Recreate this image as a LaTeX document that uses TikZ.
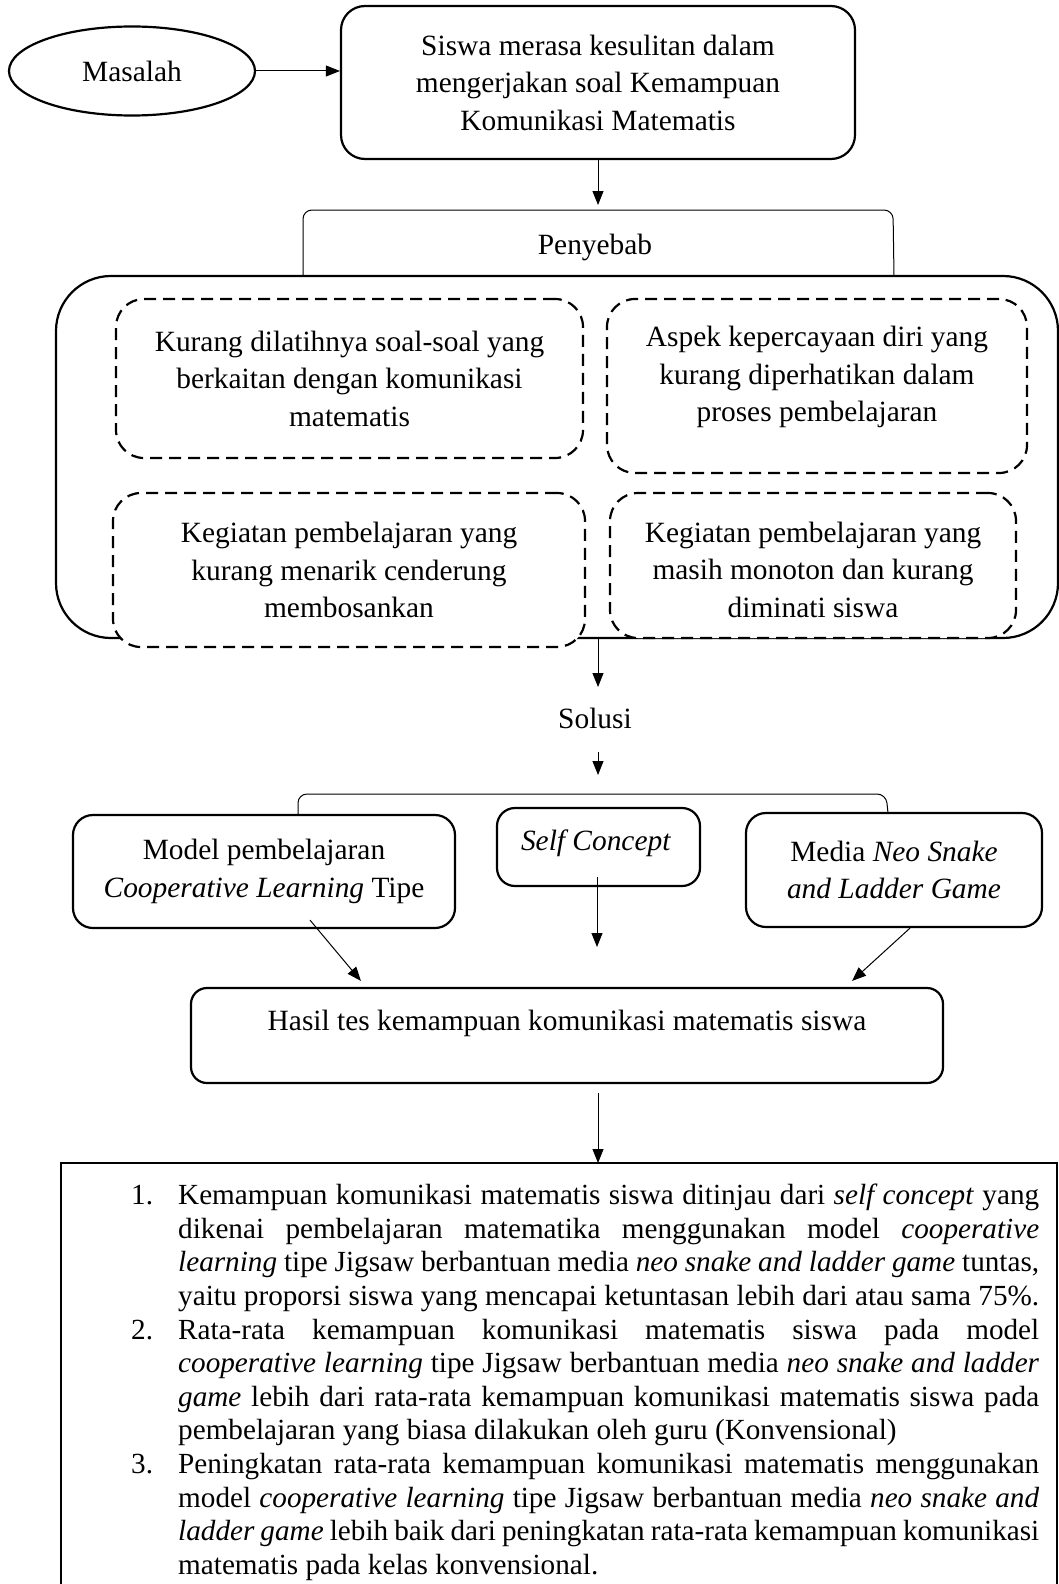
\documentclass[tikz,border=0pt]{standalone}
\usepackage{fontspec}
\setmainfont{Liberation Serif}
\usetikzlibrary{arrows.meta,shapes.geometric,calc}
\begin{document}
\begin{tikzpicture}[x=1pt,y=-1pt,
  every node/.style={font=\fontsize{29.4}{37.5}\selectfont, inner sep=0pt},
  box/.style={draw, line width=2.2pt, rounded corners=#1, fill=white},
  box/.default=22pt,
  dbox/.style={draw, line width=2.2pt, dash pattern=on 12pt off 7pt, rounded corners=28pt, fill=white, align=center},
  arr/.style={line width=1pt, -{Triangle[length=14pt,width=11pt]}},
  brk/.style={line width=1pt, rounded corners=9pt},
  txt/.style={align=center},
]
\clip (0,0) rectangle (1059,1584);
\fill[white] (0,0) rectangle (1059,1584);

% --- problem
\node[draw, ellipse, line width=2.2pt, minimum width=246pt, minimum height=89pt] (masalah) at (132,71) {Masalah};
\node[box=24pt, minimum width=514pt, minimum height=153pt, align=center] (top) at (598,82.5)
  {Siswa merasa kesulitan dalam\\mengerjakan soal Kemampuan\\Komunikasi Matematis};
\draw[arr] (masalah.east) -- (masalah.east -| top.west);

% --- causes
\coordinate (pb) at (598,205);
\draw[arr] (top.south) -- (pb);
\draw[brk] (303,276) -- (303,210) -- (893,210) -- (894,276);
\node[txt] (penyebab) at (595,247) {Penyebab};

\node[draw, line width=2.2pt, rounded corners=55pt, minimum width=1002pt, minimum height=362pt] (big) at (557,457) {};

\node[dbox, minimum width=467pt, minimum height=159pt] (c1) at (349.5,378.5)
  {Kurang dilatihnya soal-soal yang\\berkaitan dengan komunikasi\\matematis};
\node[dbox, minimum width=420pt, minimum height=174pt] (c2) at (817,386) {};
\node[txt] (c2t) at (817,377) {Aspek kepercayaan diri yang\\kurang diperhatikan dalam\\proses pembelajaran};
\node[dbox, minimum width=472pt, minimum height=154pt] (c3) at (349,570)
  {Kegiatan pembelajaran yang\\kurang menarik cenderung\\membosankan};
\node[dbox, minimum width=406pt, minimum height=145pt] (c4) at (813,565.5) {};
\node[txt] (c4t) at (813,569.5) {Kegiatan pembelajaran yang\\masih monoton dan kurang\\diminati siswa};

% --- solution
\coordinate (sa) at (598,687);
\draw[arr] (big.south -| top.south) -- (sa);
\node[txt] (solusi) at (595,718) {Solusi};
\coordinate (sb1) at (598,752);
\coordinate (sb2) at (598,775);
\draw[arr] (sb1) -- (sb2);
\draw[brk] (298,815) -- (298,794) -- (886,794) -- (888,813);

\node[box=20pt, minimum width=382pt, minimum height=113pt, align=center] (model) at (264,871.5)
  {Model pembelajaran\\\textit{Cooperative Learning} Tipe};
\node[box=18pt, minimum width=203pt, minimum height=78pt] (self) at (598.5,847) {};
\node[txt] (selft) at (596,843) {\textit{Self Concept}};
\node[box=20pt, minimum width=296pt, minimum height=114pt, align=center] (media) at (894,870)
  {Media \textit{Neo Snake}\\\textit{and Ladder Game}};

\node[box=16pt, minimum width=752pt, minimum height=95pt] (hasil) at (567,1035.5) {};
\node[txt] (hasilt) at (567,1023) {Hasil tes kemampuan komunikasi matematis siswa};

\coordinate (selfend) at (597,947);
\draw[arr] ([xshift=46pt,yshift=9pt]model.south) -- ([xshift=171pt,yshift=6pt]hasil.north west);
\draw[arr] ([xshift=-1.5pt,yshift=10pt]self.south) -- (selfend);
\draw[arr] ([xshift=16pt]media.south) -- ([xshift=-92pt,yshift=6pt]hasil.north east);

% --- conclusion
\node[draw, line width=2.4pt, minimum width=996pt, minimum height=500pt, anchor=north west, outer sep=0pt] (concbox) at (61,1163) {};
\coordinate (h1) at (598,1093);
\draw[arr] (h1) -- (h1 |- concbox.north);

\node[anchor=north west, align=left, font=\fontsize{29.2}{33.6}\selectfont] (concl) at (131,1184) {%
\makebox[47pt][l]{1.}\makebox[861pt][s]{Kemampuan komunikasi matematis siswa ditinjau dari \textit{self concept} yang}\\
\hspace*{47pt}\makebox[861pt][s]{dikenai pembelajaran matematika menggunakan model \textit{cooperative}}\\
\hspace*{47pt}\makebox[861pt][s]{\textit{learning} tipe Jigsaw berbantuan media \textit{neo snake and ladder game} tuntas,}\\
\hspace*{47pt}\makebox[861pt][s]{yaitu proporsi siswa yang mencapai ketuntasan lebih dari atau sama 75\%.}\\
\makebox[47pt][l]{2.}\makebox[861pt][s]{Rata-rata kemampuan komunikasi matematis siswa pada model}\\
\hspace*{47pt}\makebox[861pt][s]{\textit{cooperative learning} tipe Jigsaw berbantuan media \textit{neo snake and ladder}}\\
\hspace*{47pt}\makebox[861pt][s]{\textit{game} lebih dari rata-rata kemampuan komunikasi matematis siswa pada}\\
\hspace*{47pt}pembelajaran yang biasa dilakukan oleh guru (Konvensional)\\
\makebox[47pt][l]{3.}\makebox[861pt][s]{Peningkatan rata-rata kemampuan komunikasi matematis menggunakan}\\
\hspace*{47pt}\makebox[861pt][s]{model \textit{cooperative learning} tipe Jigsaw berbantuan media \textit{neo snake and}}\\
\hspace*{47pt}\makebox[861pt][s]{\textit{ladder game} lebih baik dari peningkatan rata-rata kemampuan komunikasi}\\
\hspace*{47pt}matematis pada kelas konvensional.};
\end{tikzpicture}
\end{document}
